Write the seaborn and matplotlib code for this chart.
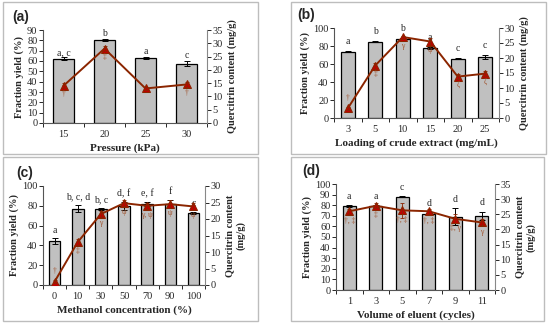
import numpy as np
import pandas as pd
import matplotlib
matplotlib.use("Agg")
import matplotlib.pyplot as plt
import seaborn as sns
from matplotlib.patches import Rectangle
from matplotlib.ticker import FixedLocator

# (a) pressure
pressure = ["15", "20", "25", "30"]
yield_a = [62, 80.5, 63, 57.5]
yerr_a = [1.5, 0.8, 1.0, 2.5]
letters_a = ["a, c", "b", "a", "c"]
quer_a = [14.0, 28.0, 13.0, 14.5]
qerr_a = [1.0, 1.0, 0.5, 0.8]
greek_a = ["\u2020", "\u2021", "", "\u2020"]

# (b) loading of crude extract
loading = ["3", "5", "10", "15", "20", "25"]
yield_b = [73.5, 85, 88, 78, 66, 68]
yerr_b = [0.5, 0.5, 0.5, 1.0, 0.5, 2.0]
letters_b = ["a", "b", "b", "a", "c", "c"]
quer_b = [3.2, 17.5, 27.0, 25.5, 13.8, 14.8]
qerr_b = [0.5, 1.0, 0.5, 1.2, 0.8, 0.8]
greek_b = ["\u2020", "\u2021", "\u03b3", "\u03c8", "\u03b6", "\u03b6"]

# (c) methanol concentration
methanol = ["0", "10", "30", "50", "70", "90", "100"]
yield_c = [44, 77, 76.5, 80, 82, 82, 72.5]
yerr_c = [3.0, 3.5, 1.0, 4.0, 2.0, 4.0, 1.0]
letters_c = ["a", "b, c, d", "b, c", "d, f", "e, f", "f", "c"]
quer_c = [1.0, 13.0, 21.5, 24.8, 24.0, 24.5, 23.8]
qerr_c = [0.5, 1.0, 0.8, 1.0, 1.0, 1.2, 1.2]
greek_c = ["\u2020", "\u2021", "\u03b3", "\u03c8", "\u03b3, \u03c8", "\u03c8", "\u03c8"]

# (d) volume of eluent
volume = ["1", "3", "5", "7", "9", "11"]
yield_d = [79, 79, 88, 72, 69, 70]
yerr_d = [1.0, 1.0, 0.5, 1.0, 8.0, 4.0]
letters_d = ["a", "a", "c", "d", "d", "d"]
quer_d = [26.0, 27.8, 26.3, 26.0, 23.5, 22.3]
qerr_d = [0.8, 0.8, 2.5, 0.8, 1.5, 1.0]
greek_d = ["\u2020, \u2021", "\u2021", "\u2020, \u2021", "\u2020, \u2021", "\u2021, \u03b3", "\u03b3"]

sns.set_theme(style="white")
plt.rcParams["font.family"] = ["Liberation Serif", "DejaVu Serif"]
plt.rcParams["axes.linewidth"] = 0.8

W, H = 550, 326
fig = plt.figure(figsize=(5.5, 3.26), dpi=100)

BAR = "#c0c0c0"
LINE = "#8b2500"
MARK = "#c00000"
GREEK = "#a0522d"


def px_axes(l, t, r, b):
    return fig.add_axes([l / W, 1 - b / H, (r - l) / W, (b - t) / H])


def panel(box, label, labpos, rect, cats, yv, ye, lets, qv, qe, gk,
          ymax, ystep, qmax, xlabel, qlabel, let_off):
    x0, y0, x1, y1 = box
    fig.patches.append(Rectangle((x0 / W, 1 - y1 / H), (x1 - x0) / W, (y1 - y0) / H,
                                 transform=fig.transFigure, fill=False,
                                 edgecolor="#bdbdbd", linewidth=1.0))
    fig.text(labpos[0] / W, 1 - labpos[1] / H, label, family="Liberation Sans",
             fontweight="bold", fontsize=10, ha="left", va="center")

    ax = px_axes(*rect)
    df = pd.DataFrame({"cat": cats, "val": yv})
    sns.barplot(data=df, x="cat", y="val", ax=ax, color=BAR, edgecolor="black",
                linewidth=0.9, width=0.5, saturation=1, errorbar=None)
    pos = np.arange(len(cats))
    ax.errorbar(pos, yv, yerr=ye, fmt="none", ecolor="black", elinewidth=0.7,
                capsize=2, capthick=0.7)
    for p, v, e, s in zip(pos, yv, ye, lets):
        ax.text(p, v + e + let_off, s, ha="center", va="bottom", fontsize=7)
    ax.set_ylim(0, ymax)
    ax.set_yticks(np.arange(0, ymax + 1, ystep))
    ax.set_xlim(-0.5, len(cats) - 0.5)
    ax.xaxis.set_minor_locator(FixedLocator(np.arange(-0.5, len(cats), 1.0)))
    ax.tick_params(axis="x", which="major", length=0, labelsize=7.5, pad=5)
    ax.tick_params(axis="x", which="minor", length=3, width=0.7, direction="out", bottom=True)
    ax.tick_params(axis="y", length=3, width=0.7, direction="out", labelsize=7.5, pad=1, left=True)
    ax.set_xlabel(xlabel, fontsize=8, fontweight="bold", labelpad=3)
    ax.set_ylabel("Fraction yield (%)", fontsize=7.5, fontweight="bold", labelpad=2)
    for sp in ["top", "right"]:
        ax.spines[sp].set_visible(False)
    for sp in ["left", "bottom"]:
        ax.spines[sp].set_color("#555555")

    ax2 = ax.twinx()
    sns.lineplot(x=pos, y=qv, ax=ax2, color=LINE, linewidth=1.4, marker="^",
                 markersize=5.5, markerfacecolor=MARK, markeredgecolor=LINE)
    ax2.errorbar(pos, qv, yerr=qe, fmt="none", ecolor=LINE, elinewidth=0.6,
                 capsize=1.5, capthick=0.6)
    for p, v, s in zip(pos, qv, gk):
        if v < qmax * 0.2:
            ax2.text(p, v + qmax * 0.07, s, ha="center", va="bottom", fontsize=5.5, color=GREEK)
        else:
            ax2.text(p, v - qmax * 0.05, s, ha="center", va="top", fontsize=5.5, color=GREEK)
    ax2.set_ylim(0, qmax)
    ax2.set_yticks(np.arange(0, qmax + 1, 5))
    ax2.tick_params(axis="y", length=3, width=0.7, direction="out", labelsize=7.5, pad=1, right=True)
    ax2.set_ylabel(qlabel, fontsize=7.5, fontweight="bold", rotation=90, labelpad=3)
    ax2.yaxis.set_label_position("right")
    ax2.spines["top"].set_visible(False)
    ax2.spines["left"].set_visible(False)
    ax2.spines["bottom"].set_visible(False)
    ax2.spines["right"].set_color("#888888")
    ax2.set_xlim(-0.5, len(cats) - 0.5)
    ax2.grid(False)
    ax.grid(False)


panel((3, 2, 258, 154), "(a)", (12, 17), (43, 30, 207, 123), pressure,
      yield_a, yerr_a, letters_a, quer_a, qerr_a, greek_a,
      90, 10, 35, "Pressure (kPa)", "Quercitrin content (mg/g)", 0.5)
panel((291, 2, 546, 154), "(b)", (297, 15), (334, 28, 499, 118), loading,
      yield_b, yerr_b, letters_b, quer_b, qerr_b, greek_b,
      100, 20, 30, "Loading of crude extract (mg/mL)", "Quercitrin content (mg/g)", 6)
panel((3, 157, 258, 321), "(c)", (16, 173), (43, 186, 205, 285), methanol,
      yield_c, yerr_c, letters_c, quer_c, qerr_c, greek_c,
      100, 20, 30, "Methanol concentration (%)", "Quercitrin content\n(mg/g)", 4)
panel((291, 157, 544, 321), "(d)", (302, 171), (336, 184, 495, 290), volume,
      yield_d, yerr_d, letters_d, quer_d, qerr_d, greek_d,
      100, 10, 35, "Volume of eluent (cycles)", "Quercitrin content\n(mg/g)", 4)

fig.savefig("out.png", dpi=100, facecolor="white")
